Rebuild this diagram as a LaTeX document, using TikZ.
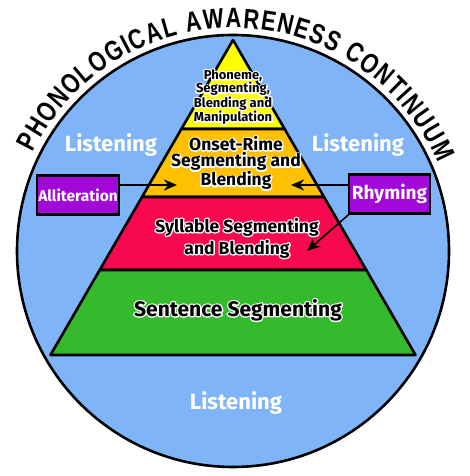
\documentclass[tikz,border=0pt]{standalone}
\usepackage{fontspec}
\setmainfont{Fira Sans}
\newfontfamily\titlefont[FakeStretch=0.78]{Liberation Sans}
\usetikzlibrary{arrows.meta,decorations.text}
\definecolor{bgblue}{HTML}{80B4F8}
\definecolor{pyellow}{HTML}{FFFF00}
\definecolor{porange}{HTML}{FFC000}
\definecolor{pred}{HTML}{F8084F}
\definecolor{pgreen}{HTML}{35BA2E}
\definecolor{boxpurple}{HTML}{A208D8}
\newcommand{\hl}[1]{\rlap{\special{pdf:code q 1 Tr 2.6 w 1 j 1 1 1 RG}#1\special{pdf:code Q}}#1}
\begin{document}
\begin{tikzpicture}[x=1pt,y=1pt,
  pyr/.style={draw=black,line width=2.6pt,line join=round},
  lbl/.style={font=\bfseries\fontsize{22}{24}\selectfont,text=white},
  box/.style={draw=black,line width=2.6pt,fill=boxpurple,text=white,minimum height=39pt,inner sep=0pt},
  arr/.style={line width=1.6pt,-{Stealth[length=13pt,width=11pt,inset=4pt]}},
  ptext/.style={align=center,text=black}]
\useasboundingbox (0,0) rectangle (469,476);
\coordinate (C) at (233,225);
\fill[bgblue] (C) circle[radius=216];
% pyramid
\coordinate (apex) at (233,436);
\coordinate (l1) at (181.4,347); \coordinate (r1) at (284.6,347);
\coordinate (l2) at (142,279);   \coordinate (r2) at (324,279);
\coordinate (l3) at (99.7,206);  \coordinate (r3) at (366.3,206);
\coordinate (l4) at (50.5,121);  \coordinate (r4) at (415.5,121);
\filldraw[pyr,fill=pyellow] (apex)--(r1)--(l1)--cycle;
\filldraw[pyr,fill=porange] (l1)--(r1)--(r2)--(l2)--cycle;
\filldraw[pyr,fill=pred] (l2)--(r2)--(r3)--(l3)--cycle;
\filldraw[pyr,fill=pgreen] (l3)--(r3)--(r4)--(l4)--cycle;
\draw[line width=2.6pt] (C) circle[radius=216];
% title
\path[decorate,decoration={text along path,text align=fit to path,
  text={|\titlefont\bfseries\fontsize{28}{28}\selectfont|PHONOLOGICAL AWARENESS CONTINUUM}}]
  (C) ++(153.9:223) arc[start angle=153.9,end angle=23.3,radius=223];
% listening
\node[lbl] (lisL) at (111,331) {Listening};
\node[lbl] (lisR) at (358,331) {Listening};
\node[lbl] (lisB) at (236,73) {Listening};
% pyramid texts
\node[ptext,font=\bfseries\fontsize{13}{13.4}\selectfont] (tphon) at (233,379)
  {\hl{Phoneme,}\\\hl{Segmenting,}\\\hl{Blending and}\\\hl{Manipulation}};
\node[ptext,font=\bfseries\fontsize{17.5}{16.5}\selectfont] (tonset) at (236,313)
  {\hl{Onset-Rime}\\\hl{Segmenting and}\\\hl{Blending}};
\node[ptext,font=\bfseries\fontsize{17.5}{22}\selectfont] (tsyl) at (237,238)
  {\hl{Syllable Segmenting}\\\hl{and Blending}};
\node[ptext,font=\bfseries\fontsize{21}{22}\selectfont] (tsent) at (238,166)
  {\hl{Sentence Segmenting}};
% boxes
\node[box,minimum width=82pt,font=\bfseries\fontsize{15.5}{17}\selectfont] (allit) at (78,281) {Alliteration};
\node[box,minimum width=81pt,font=\bfseries\fontsize{19}{21}\selectfont] (rhym) at (389.5,282) {Rhyming};
% arrows
\coordinate (t1) at (177,291);
\draw[arr] (allit.east |- t1) -- (t1);
\coordinate (t2) at (291,291);
\draw[arr] (rhym.west |- t2) -- (t2);
\coordinate (t3) at (307,225);
\draw[arr] ([shift={(3,2)}]rhym.south west) -- (t3);
\end{tikzpicture}
\end{document}
